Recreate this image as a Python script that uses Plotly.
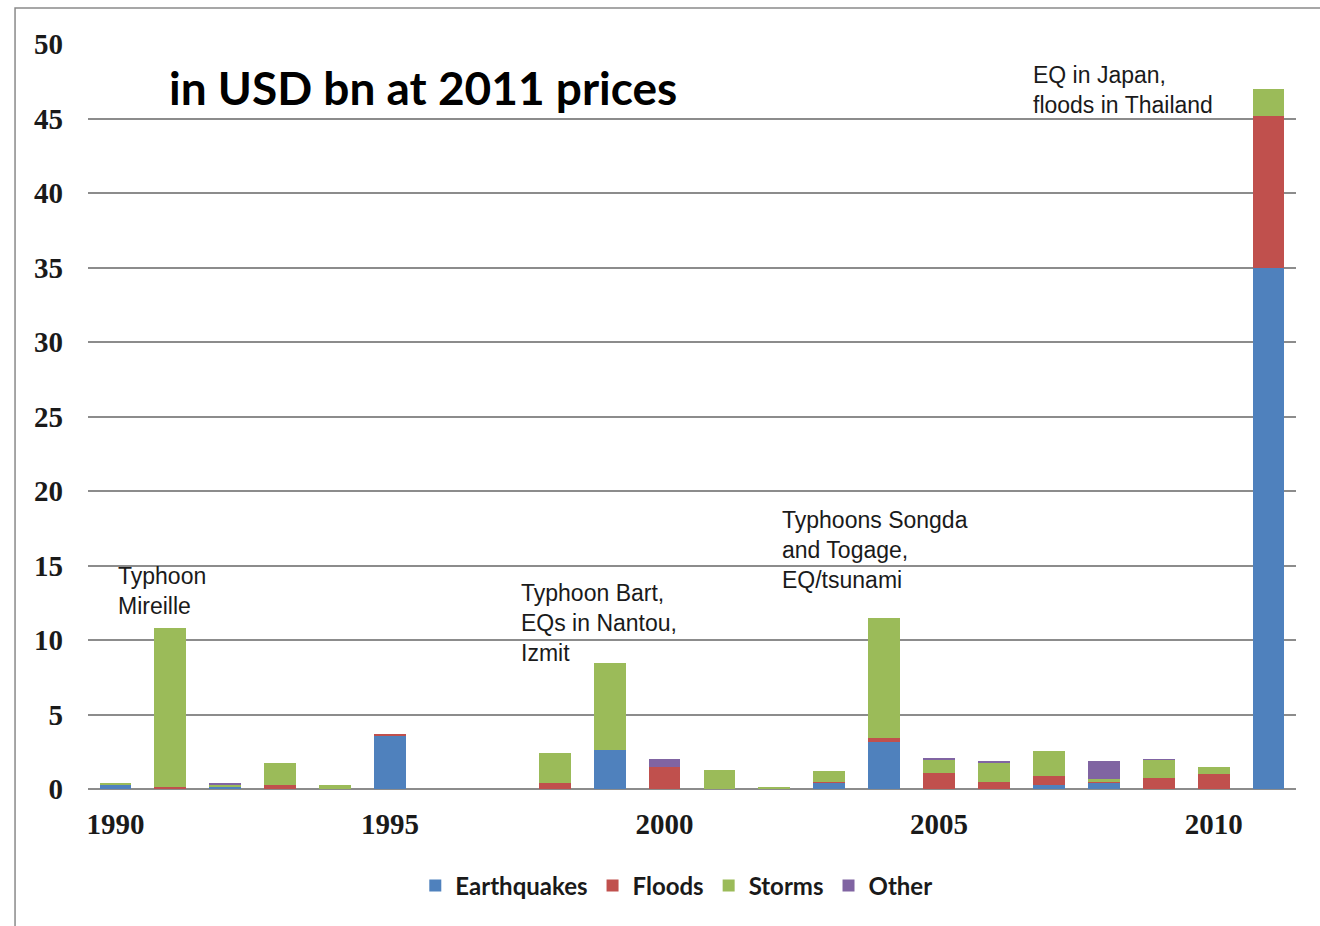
import plotly.graph_objects as go

years = list(range(1990, 2012))
earthquakes = [0.30, 0.00, 0.15, 0.00, 0.00, 3.60, 0, 0, 0.00, 2.65, 0.00, 0.00, 0.00, 0.45, 3.15, 0.00, 0.00, 0.30, 0.45, 0.00, 0.00, 35.0]
floods      = [0.00, 0.15, 0.05, 0.30, 0.00, 0.10, 0, 0, 0.40, 0.00, 1.45, 0.00, 0.05, 0.05, 0.30, 1.05, 0.50, 0.55, 0.05, 0.75, 1.00, 10.2]
storms      = [0.10, 10.65, 0.10, 1.45, 0.25, 0.00, 0, 0, 2.05, 5.80, 0.00, 1.30, 0.10, 0.70, 8.00, 0.95, 1.30, 1.70, 0.15, 1.20, 0.45, 1.80]
other       = [0.00, 0.00, 0.08, 0.00, 0.00, 0.00, 0, 0, 0.00, 0.00, 0.55, 0.00, 0.00, 0.00, 0.00, 0.08, 0.05, 0.00, 1.20, 0.05, 0.00, 0.00]

series = [("Earthquakes", earthquakes, "#4F81BD"),
          ("Floods", floods, "#C0504D"),
          ("Storms", storms, "#9BBB59"),
          ("Other", other, "#8064A2")]

notes = [
    (1990.01, 13.32, "Typhoon<br>Mireille"),
    (1997.35, 11.11, "Typhoon Bart,<br>EQs in Nantou,<br>Izmit"),
    (2002.10, 16.04, "Typhoons Songda<br>and Togage,<br>EQ/tsunami"),
    (2006.67, 46.91, "EQ in Japan,<br>floods in Thailand"),
]

fig = go.Figure()
for name, vals, col in series:
    fig.add_trace(go.Bar(x=years, y=vals, name=name, marker_color=col,
                         marker_line_width=0))

for x, y, t in notes:
    fig.add_annotation(x=x, y=y, xref="x", yref="y", text=t, showarrow=False,
                       xanchor="left", yanchor="middle", align="left",
                       font=dict(family="Liberation Sans", size=23, color="#1a1a1a"))

fig.add_annotation(x=1990.94, y=47.05, xref="x", yref="y",
                   text="<b>in USD bn at 2011 prices</b>", showarrow=False,
                   xanchor="left", yanchor="middle",
                   font=dict(family="Lato", size=46, color="#000000"))

fig.add_shape(type="rect", xref="paper", yref="paper",
              x0=-0.0604, y0=-0.19, x1=1.03, y1=1.0483,
              line=dict(color="#8a8a8a", width=1.5), fillcolor="rgba(0,0,0,0)",
              layer="below")

fig.update_layout(
    width=1320, height=926,
    margin=dict(l=88, r=24, t=44, b=137),
    paper_bgcolor="white", plot_bgcolor="white",
    barmode="stack", bargap=0.42,
    showlegend=True,
    legend=dict(orientation="h", x=0.487, xanchor="center", y=-0.13, yanchor="middle",
                font=dict(family="Lato", size=24, color="#1a1a1a", weight="bold"),
                traceorder="normal", itemwidth=30, tracegroupgap=0),
    xaxis=dict(range=[1989.5, 2011.5], tickvals=[1990, 1995, 2000, 2005, 2010],
               showgrid=False, zeroline=False, showline=False, ticks="",
               ticklabelstandoff=15,
               tickfont=dict(family="Liberation Serif", size=29, color="#1a1a1a", weight="bold"),
               fixedrange=True),
    yaxis=dict(range=[0, 50], dtick=5, showgrid=True, gridcolor="#8c8c8c", gridwidth=1.5,
               zeroline=True, zerolinecolor="#8c8c8c", zerolinewidth=1.5,
               showline=False, ticks="", ticklabelstandoff=24,
               tickfont=dict(family="Liberation Serif", size=29, color="#1a1a1a", weight="bold"),
               fixedrange=True),
)

fig.write_html("out.html")
